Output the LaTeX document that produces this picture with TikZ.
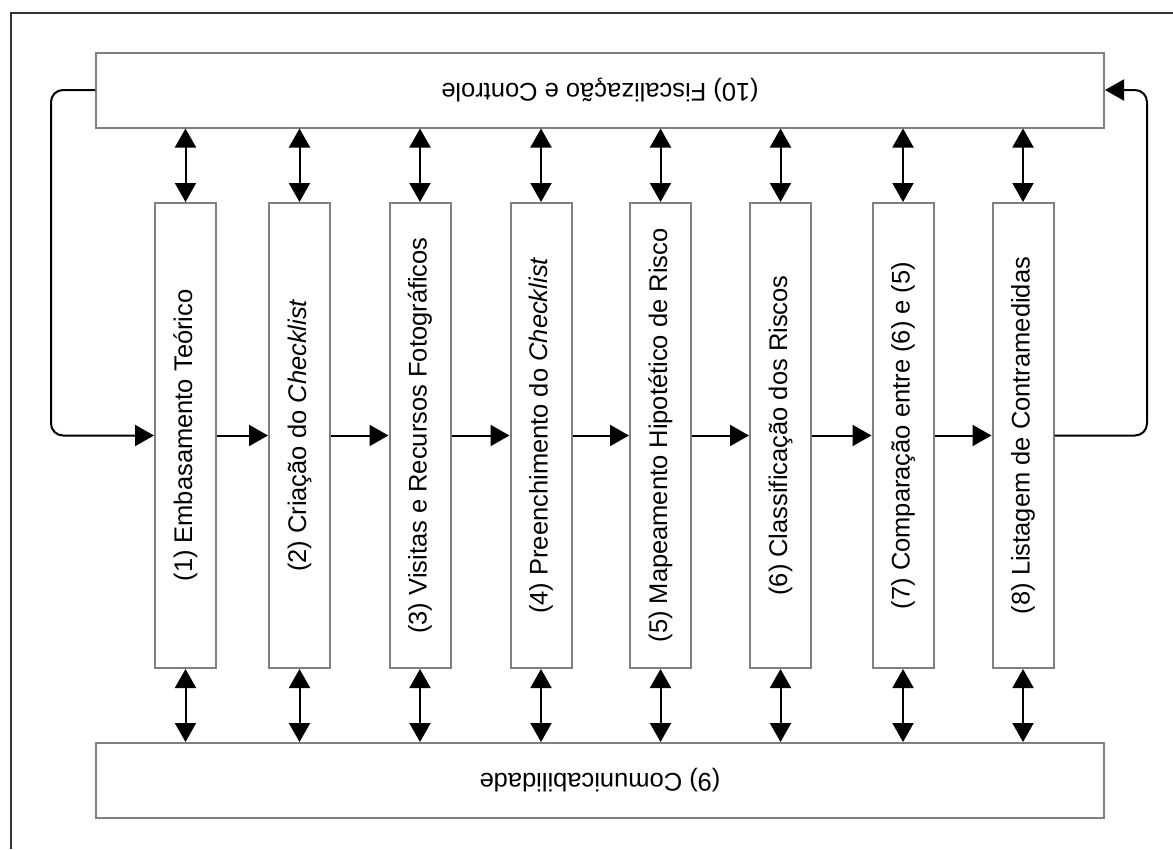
\documentclass[tikz,border=0pt]{standalone}
\usepackage{fontspec}
\setmainfont{Liberation Sans}
\usetikzlibrary{arrows.meta,calc}

\tikzset{
  etapa/.style={draw=gray, line width=2pt, minimum width=61pt, minimum height=465pt, inner sep=0pt, font=\fontsize{25.5}{30}\selectfont},
  faixa/.style={draw=gray, line width=2pt, minimum width=1008pt, minimum height=75pt, inner sep=0pt, font=\fontsize{25.5}{30}\selectfont},
  seta/.style={line width=2pt, -{Triangle[length=19pt,width=21pt]}},
  setadupla/.style={line width=2pt, {Triangle[length=19pt,width=21pt]}-{Triangle[length=19pt,width=21pt]}}
}

\begin{document}
\begin{tikzpicture}[x=1pt,y=-1pt]
	\useasboundingbox (0,0) rectangle (1173,849);
	%moldura
	\draw[line width=2.2pt, black!80] (11,849) -- (11,13) -- (1173,13);

	\node[faixa] (topo) at (600,90) {\rotatebox{180}{(10) Fiscalização e Controle}};
	\node[faixa] (base) at (600,780.5) {\rotatebox{180}{(9) Comunicabilidade}};

	\node[etapa] (b1) at (185.5,435.5) {\rotatebox{90}{(1) Embasamento Teórico}};
	\node[etapa] (b2) at (299.5,435.5) {\rotatebox{90}{(2) Criação do \textit{Checklist}}};
	\node[etapa] (b3) at (420,435.5) {\rotatebox{90}{(3) Visitas e Recursos Fotográficos}};
	\node[etapa] (b4) at (541,435.5) {\rotatebox{90}{(4) Preenchimento do \textit{Checklist}}};
	\node[etapa] (b5) at (660.5,435.5) {\rotatebox{90}{(5) Mapeamento Hipotético de Risco}};
	\node[etapa] (b6) at (780.5,435.5) {\rotatebox{90}{(6) Classificação dos Riscos}};
	\node[etapa] (b7) at (903,435.5) {\rotatebox{90}{(7) Comparação entre (6) e (5)}};
	\node[etapa] (b8) at (1023,435.5) {\rotatebox{90}{(8) Listagem de Contramedidas}};

	%sequencia
	\draw[seta] (b1.east) -- (b2.west);
	\draw[seta] (b2.east) -- (b3.west);
	\draw[seta] (b3.east) -- (b4.west);
	\draw[seta] (b4.east) -- (b5.west);
	\draw[seta] (b5.east) -- (b6.west);
	\draw[seta] (b6.east) -- (b7.west);
	\draw[seta] (b7.east) -- (b8.west);

	%retorno
	\coordinate (voltaE) at (51,435.5);
	\coordinate (voltaD) at (1147,435.5);
	\draw[seta, rounded corners=12pt] (topo.west) -| (voltaE) -- (b1.west);
	\draw[seta, rounded corners=12pt] (b8.east) -- (voltaD) |- (topo.east);

	%controle
	\draw[setadupla] (topo.south -| b1.north) -- (b1.north);
	\draw[setadupla] (topo.south -| b2.north) -- (b2.north);
	\draw[setadupla] (topo.south -| b3.north) -- (b3.north);
	\draw[setadupla] (topo.south -| b4.north) -- (b4.north);
	\draw[setadupla] (topo.south -| b5.north) -- (b5.north);
	\draw[setadupla] (topo.south -| b6.north) -- (b6.north);
	\draw[setadupla] (topo.south -| b7.north) -- (b7.north);
	\draw[setadupla] (topo.south -| b8.north) -- (b8.north);

	%comunicacao
	\draw[setadupla] (b1.south) -- (base.north -| b1.south);
	\draw[setadupla] (b2.south) -- (base.north -| b2.south);
	\draw[setadupla] (b3.south) -- (base.north -| b3.south);
	\draw[setadupla] (b4.south) -- (base.north -| b4.south);
	\draw[setadupla] (b5.south) -- (base.north -| b5.south);
	\draw[setadupla] (b6.south) -- (base.north -| b6.south);
	\draw[setadupla] (b7.south) -- (base.north -| b7.south);
	\draw[setadupla] (b8.south) -- (base.north -| b8.south);
\end{tikzpicture}
\end{document}
